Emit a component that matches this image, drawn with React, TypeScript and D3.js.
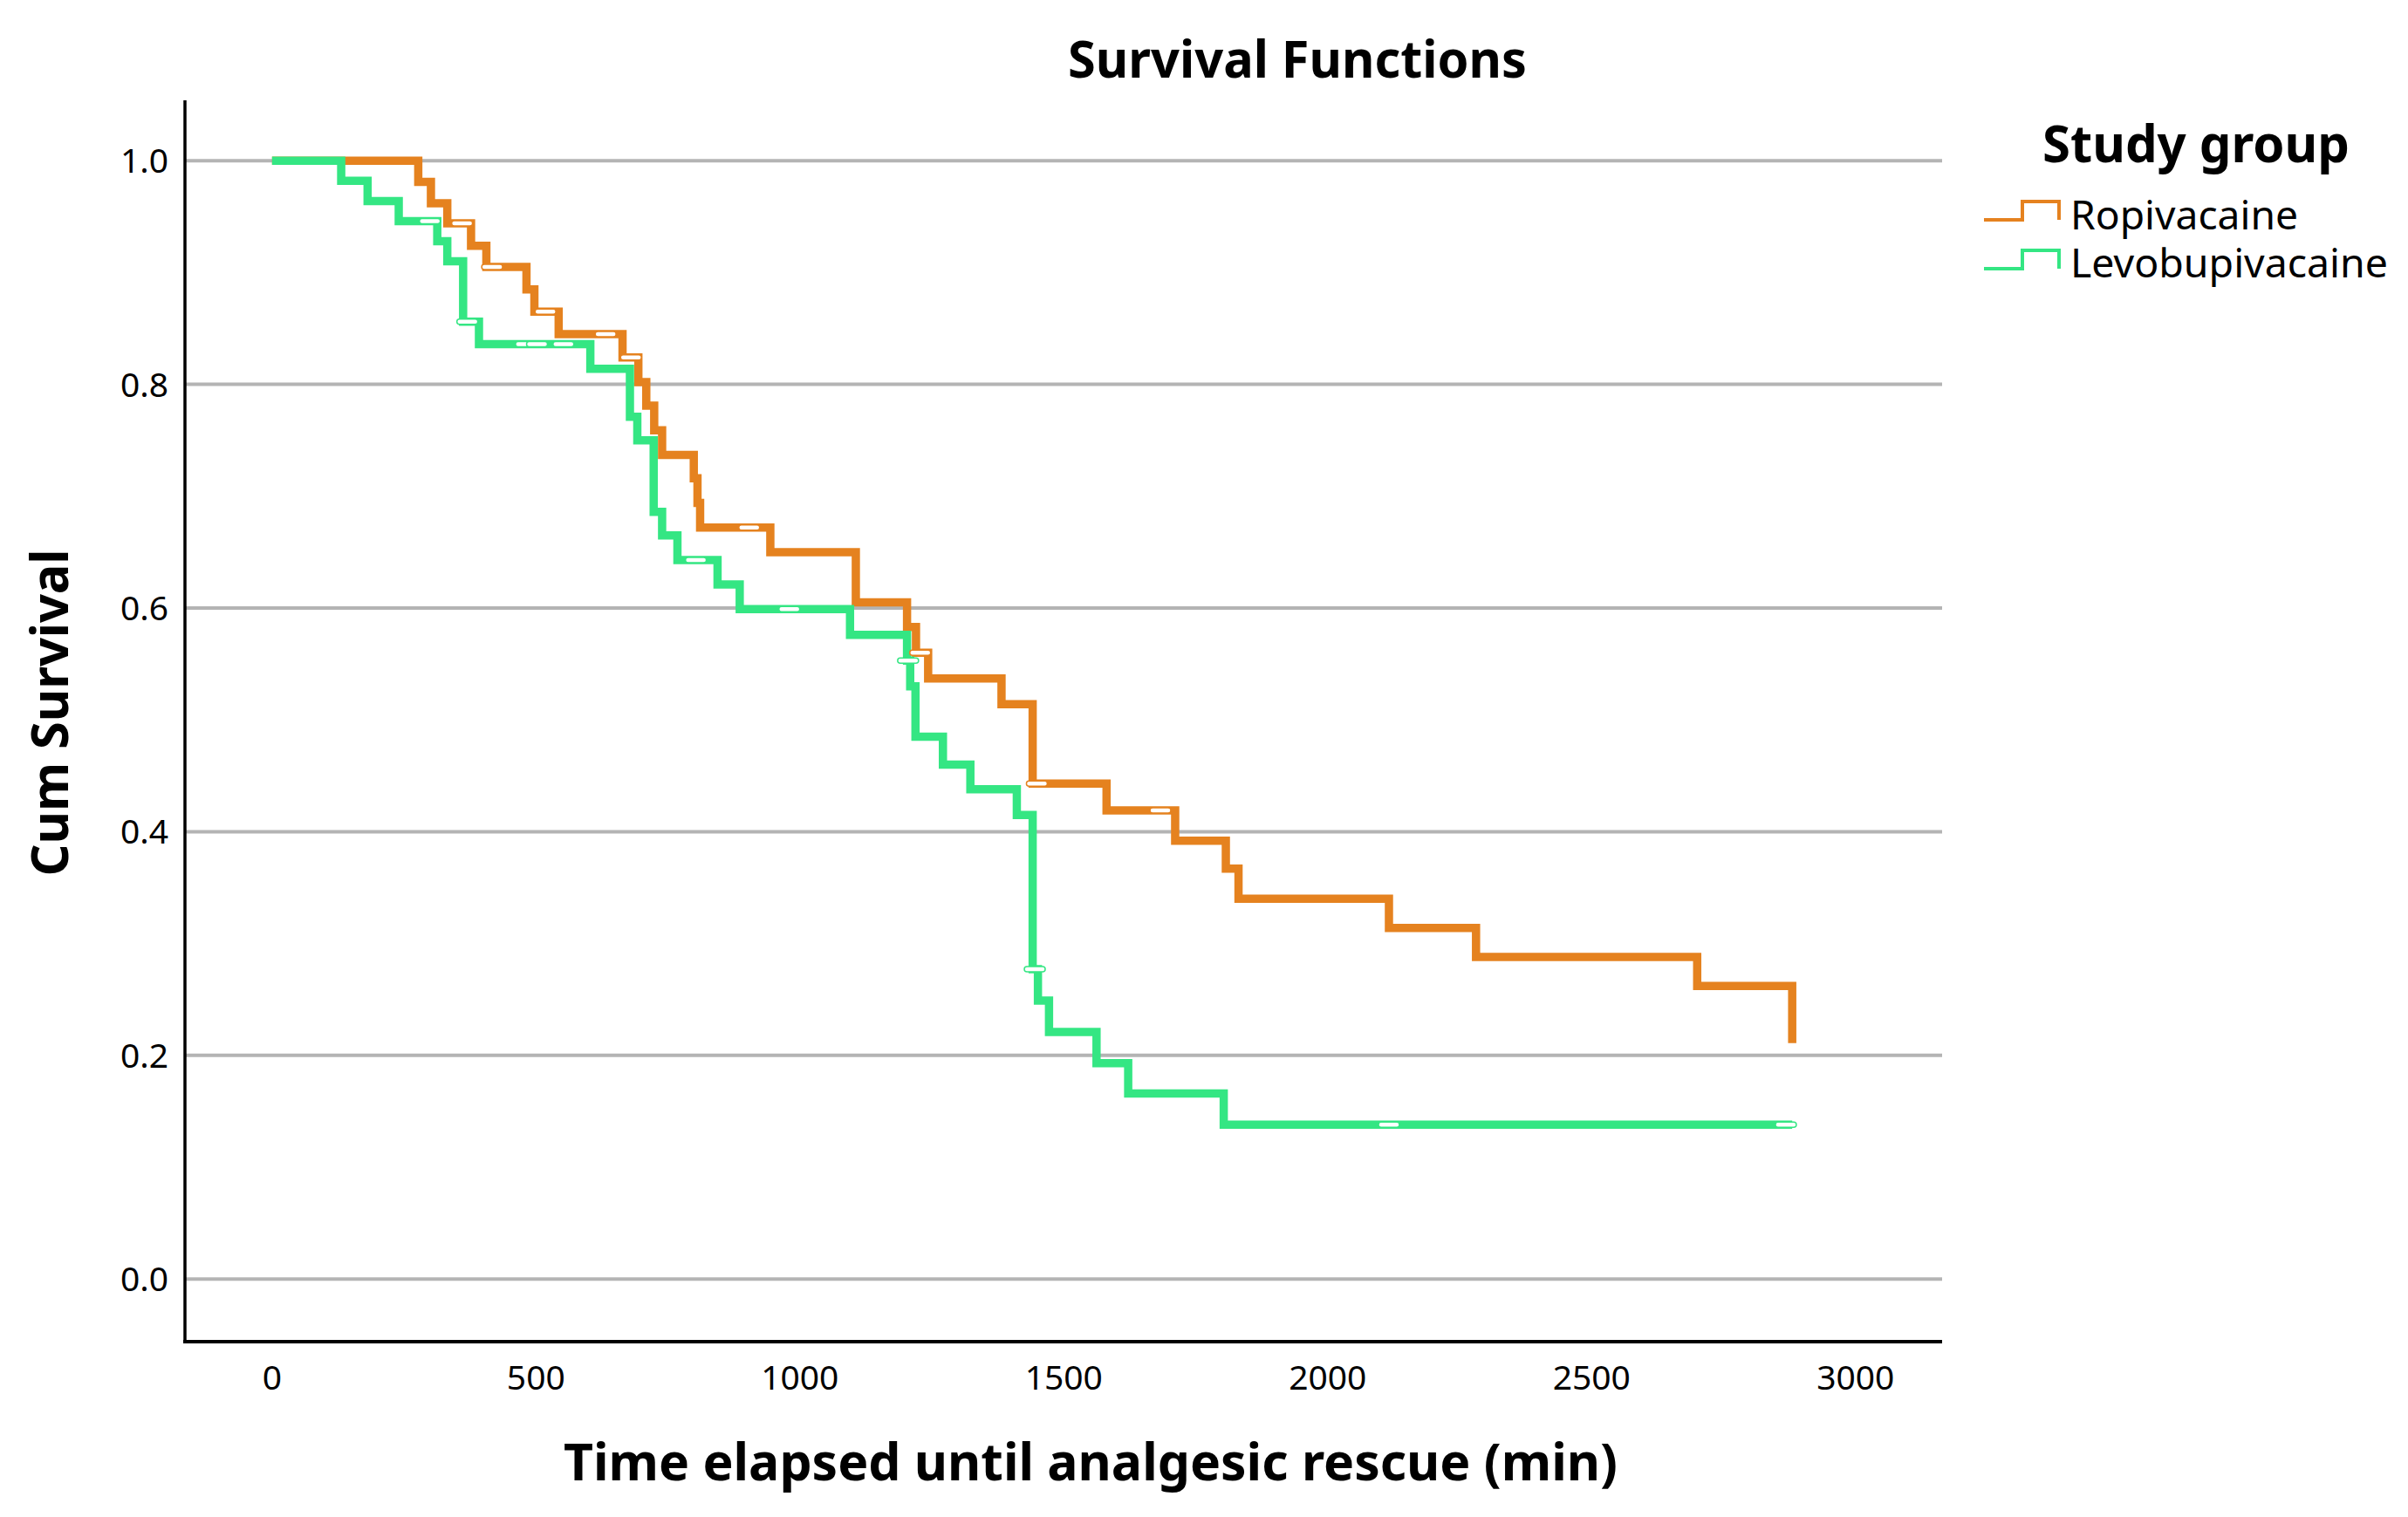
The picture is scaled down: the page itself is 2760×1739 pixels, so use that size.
import React from 'react';
import * as d3 from 'd3';

// Kaplan-Meier steps (time in min, cumulative survival)
const ropiTime = [0, 277, 301, 332, 377, 406, 482, 497, 543, 664, 694, 709, 724, 739, 799, 806, 811, 944, 1106, 1203, 1220, 1243, 1382, 1441, 1581, 1711, 1807, 1831, 2116, 2281, 2700, 2880];
const ropiSurv = [1.0, 0.981, 0.962, 0.944, 0.924, 0.905, 0.885, 0.865, 0.845, 0.824, 0.802, 0.781, 0.759, 0.737, 0.716, 0.694, 0.672, 0.65, 0.605, 0.583, 0.56, 0.537, 0.514, 0.443, 0.419, 0.392, 0.367, 0.34, 0.314, 0.288, 0.262, 0.211];
const ropiCensorTime = [360, 417, 518, 632, 680, 904, 1228, 1449, 1683];
const ropiCensorSurv = [0.944, 0.905, 0.865, 0.845, 0.824, 0.672, 0.56, 0.443, 0.419];

const levoTime = [0, 131, 181, 240, 313, 332, 362, 392, 603, 678, 692, 723, 739, 768, 844, 886, 1095, 1203, 1209, 1219, 1271, 1323, 1411, 1441, 1451, 1472, 1562, 1622, 1803, 2880];
const levoSurv = [1.0, 0.982, 0.964, 0.946, 0.928, 0.91, 0.856, 0.836, 0.814, 0.771, 0.75, 0.686, 0.665, 0.643, 0.621, 0.599, 0.576, 0.553, 0.53, 0.485, 0.46, 0.438, 0.415, 0.277, 0.249, 0.221, 0.193, 0.166, 0.138, 0.138];
const levoCensorTime = [299, 370, 481, 502, 552, 803, 980, 1205, 1445, 2116, 2868];
const levoCensorSurv = [0.946, 0.856, 0.836, 0.836, 0.836, 0.643, 0.599, 0.553, 0.277, 0.138, 0.138];

const xTicks = [0, 500, 1000, 1500, 2000, 2500, 3000];
const yTicks = [0, 0.2, 0.4, 0.6, 0.8, 1.0];

const groups = ['Ropivacaine', 'Levobupivacaine'];
const colors = ['#e5821f', '#34e683'];

const W = 2760;
const H = 1739;
const FONT = '"Noto Sans", "Open Sans", sans-serif';

export default function App() {
    const left = 212;
    const right = 2226;
    const top = 115;
    const bottom = 1538;

    const x = d3.scaleLinear().domain([-165, 3164]).range([left, right]);
    const y = d3.scaleLinear().domain([-0.056, 1.054]).range([bottom, top]);

    const line = d3.line<[number, number]>()
        .x(d => x(d[0]))
        .y(d => y(d[1]))
        .curve(d3.curveStepAfter);

    const series = [
        { times: ropiTime, surv: ropiSurv, cT: ropiCensorTime, cS: ropiCensorSurv, color: colors[0] },
        { times: levoTime, surv: levoSurv, cT: levoCensorTime, cS: levoCensorSurv, color: colors[1] },
    ];

    // legend step icon
    const iconPath = (yLow: number) =>
        `M2274,${yLow} H2318 V${yLow - 21} H2360 V${yLow}`;

    return (
        <svg width={W} height={H} viewBox={`0 0 ${W} ${H}`}
            style={{ position: 'absolute', left: 0, top: 0, background: '#fff' }}
            fontFamily={FONT}>
            <rect x={0} y={0} width={W} height={H} fill="#fff" />

            {/* grid */}
            {yTicks.map(t => (
                <line key={`g${t}`} x1={left} x2={right} y1={y(t)} y2={y(t)}
                    stroke="#b4b4b4" strokeWidth={4} />
            ))}

            {/* axes */}
            <line x1={left} x2={left} y1={top} y2={bottom + 2} stroke="#000" strokeWidth={3.5} />
            <line x1={left - 2} x2={right} y1={bottom} y2={bottom} stroke="#000" strokeWidth={4} />

            {yTicks.map(t => (
                <text key={`yt${t}`} x={193} y={y(t)} dy="0.36em" textAnchor="end"
                    fontSize={39} fill="#000">{t.toFixed(1)}</text>
            ))}
            {xTicks.map(t => (
                <text key={`xt${t}`} x={x(t)} y={1593} textAnchor="middle"
                    fontSize={39} fill="#000">{t}</text>
            ))}

            {/* curves */}
            {series.map((s, i) => (
                <path key={`p${i}`}
                    d={line(s.times.map((t, j) => [t, s.surv[j]] as [number, number])) || ''}
                    fill="none" stroke={s.color} strokeWidth={9.5}
                    strokeLinejoin="miter" strokeLinecap="butt" />
            ))}

            {/* censor marks: thin white slits in the line */}
            {series.map((s, i) => (
                <g key={`c${i}`}>
                    {s.cT.map((t, j) => (
                        <rect key={j} x={x(t) - 12} y={y(s.cS[j]) - 3} width={24} height={6}
                            rx={3} fill="#fff" stroke={s.color} strokeWidth={1.5} />
                    ))}
                </g>
            ))}

            {/* titles */}
            <text x={1487} y={89} textAnchor="middle" fontSize={60} fontWeight="bold"
                textLength={526} lengthAdjust="spacingAndGlyphs">Survival Functions</text>
            <text transform="translate(78,817) rotate(-90)" textAnchor="middle" fontSize={60}
                fontWeight="bold" textLength={375} lengthAdjust="spacingAndGlyphs">Cum Survival</text>
            <text x={1250} y={1697} textAnchor="middle" fontSize={60} fontWeight="bold"
                textLength={1208} lengthAdjust="spacingAndGlyphs">Time elapsed until analgesic rescue (min)</text>

            {/* legend */}
            <text x={2341} y={186} fontSize={60} fontWeight="bold"
                textLength={352} lengthAdjust="spacingAndGlyphs">Study group</text>
            {groups.map((g, i) => (
                <g key={g}>
                    <path d={iconPath(252 + i * 56)} fill="none" stroke={colors[i]} strokeWidth={4} />
                    <text x={2373} y={263 + i * 55} fontSize={45}
                        textLength={i === 0 ? 261 : 364} lengthAdjust="spacingAndGlyphs">{g}</text>
                </g>
            ))}
        </svg>
    );
}
